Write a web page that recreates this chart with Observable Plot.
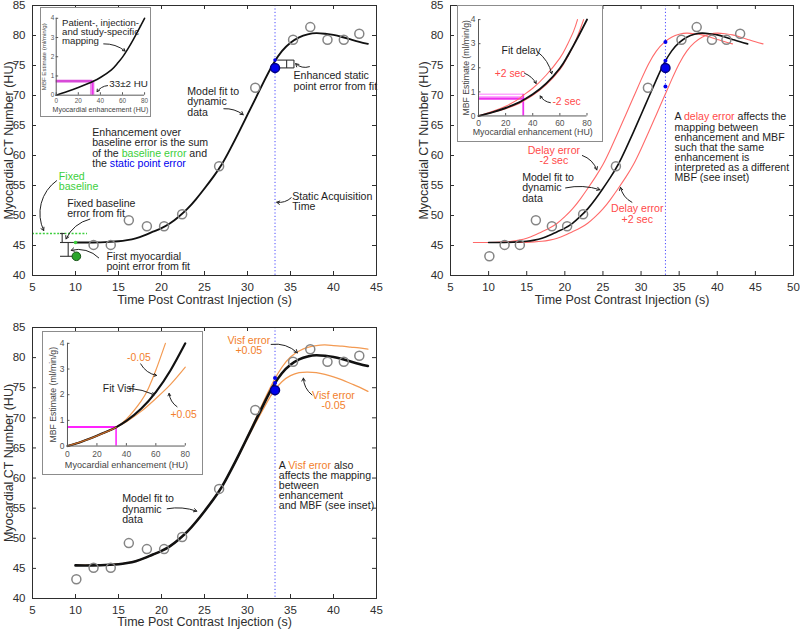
<!DOCTYPE html>
<html><head><meta charset="utf-8">
<script src="https://cdn.jsdelivr.net/npm/d3@7"></script>
<script src="https://cdn.jsdelivr.net/npm/@observablehq/plot@0.6"></script>
<style>
body{margin:0;background:#fff;}
#root{position:relative;width:800px;height:632px;overflow:hidden;background:#fff;}
.pan{position:absolute;}
.inset{position:absolute;background:#fff;border:1px solid #8c8c8c;box-sizing:border-box;}
</style></head><body><div id="root"></div>
<script>
// ---------- data ----------
const sampleT  = [10.1, 12.1, 14.1, 16.2, 18.3, 20.3, 22.4, 26.7, 30.9, 35.3, 37.3, 39.3, 41.2, 43.0];
const sampleHU = [43.2, 45.1, 45.1, 49.2, 48.2, 48.2, 50.2, 58.2, 71.3, 79.3, 81.4, 79.3, 79.3, 80.3];

const fitT  = [10,12,14,15,16,17,18,19,20,21,22,23,24,25,26,27,28,29,30,31,32,33,34,35,36,37,38,39,40,41,42,43,44];
const fitHU = [45.5,45.5,45.6,45.7,45.9,46.2,46.7,47.3,47.9,48.7,49.8,51.1,52.7,54.5,56.4,58.5,61.1,63.9,66.8,69.7,72.6,75.3,77.4,78.8,79.7,80.2,80.4,80.3,80.1,79.75,79.35,78.95,78.6];

// delay error curves (fit shifted by -2 s and +2 s)
const delayEarlyT = [8,10,12,13,14,15,16,17,18,19,20,21,22,23,24,25,26,27,28,29,30,31,32,33,34,35,36,37,38,39,40,41,42];
const delayLateT  = [12,14,16,17,18,19,20,21,22,23,24,25,26,27,28,29,30,31,32,33,34,35,36,37,38,39,40,41,42,43,44,45,46];

// Visf error curves
const visfPlusHU  = [45.5,45.5,45.6,45.7,45.9,46.2,46.7,47.3,47.9,48.7,49.8,51.1,52.7,54.5,56.4,58.5,61.1,63.9,66.9,70.0,73.1,76.0,78.4,80.1,81.1,81.7,82.0,82.1,82.0,81.9,81.75,81.6,81.4];
const visfMinusHU = [45.5,45.5,45.6,45.7,45.9,46.2,46.7,47.3,47.9,48.7,49.8,51.1,52.7,54.5,56.4,58.5,61.1,63.8,66.6,69.3,71.9,74.3,76.0,77.0,77.5,77.6,77.5,77.2,76.8,76.3,75.7,75.1,74.4];

const acqT = 33.2, staticHU = 74.6, acqFitHU = 75.9, baselineHU = 47;
const delayDotsHU = [78.9, 75.8, 71.5];
const visfDotsHU = [76.6, 75.8];

// inset mappings (enhancement HU -> MBF)
const mapE   = [0,10,20,30,33,40,50,55,60,65,70,75,80];
const mapMBF = [0,0.19,0.4,0.63,0.71,0.92,1.32,1.62,1.98,2.42,2.92,3.45,4.0];

const dFitE   = [0,10,20,30,33,40,50,60,65,70,75,80];
const dFitMBF = [0,0.15,0.33,0.56,0.66,0.9,1.35,1.98,2.42,2.92,3.45,4.0];
const dPlusE   = [0,10,20,30,33,40,50,60,65,70,73];
const dPlusMBF = [0,0.18,0.4,0.72,0.86,1.15,1.7,2.4,2.9,3.5,4.0];
const dMinusE   = [0,10,20,30,33,40,50,60,65,70,75,77.5];
const dMinusMBF = [0,0.14,0.3,0.52,0.62,0.86,1.3,1.92,2.38,2.92,3.6,4.0];

const vFitE   = [0,10,20,30,33,40,50,60,70,80];
const vFitMBF = [0,0.18,0.4,0.64,0.73,0.98,1.45,2.1,2.95,4.0];
const vMinusE   = [0,10,20,30,33,40,50,55,60,66.5];
const vMinusMBF = [0,0.18,0.4,0.64,0.73,1.05,1.75,2.25,2.95,4.0];
const vPlusE   = [0,10,20,30,33,40,50,60,70,80];
const vPlusMBF = [0,0.18,0.4,0.64,0.73,0.95,1.35,1.85,2.4,3.07];

const enhAt = 33, enhErr = 2;
const mbfA = 0.73;
const mbfB = [0.9, 0.8, 0.72];
const mbfC = 0.74;

// ticks & labels
const huTicks = [40,45,50,55,60,65,70,75,80,85];
const tTicks45 = [5,10,15,20,25,30,35,40,45];
const tTicks50 = [5,10,15,20,25,30,35,40,45,50];
const enhTicks = [0,20,40,60,80];
const mbfTicks = [0,1,2,3,4];
const xLabel = "Time Post Contrast Injection (s)";
const yLabel = "Myocardial CT Number (HU)";
const enhLabel = "Myocardial enhancement (HU)";
const mbfLabel = "MBF Estimate (ml/min/g)";

// ---------- style ----------
const FONT = '"Liberation Sans", Arial, Helvetica, sans-serif';
const AX = "#2e2e2e", TXT = "#1e1e1e";
const GREEN = "#3ccf3c", BLUE = "#0000ee", DOTBLUE = "#4a4aff";
const RED = "#ff6a6a", REDTXT = "#ff4a4a", ORANGE = "#f39a52", ORTXT = "#f2802c";
const MAG = "#ee30ee", PINK = "#ffa8ff";
const root = document.getElementById("root");
const fmtInt = d => String(d);

const pts = (xs, ys) => xs.map((x, i) => ({x, y: ys[i]}));
const samples = pts(sampleT, sampleHU);

function colorize(svg) {
  svg.querySelectorAll("text, tspan").forEach(el => {
    if (el.childNodes.length !== 1 || el.firstChild.nodeType !== 3) return;
    const s = el.textContent; if (!s.includes("{")) return;
    el.textContent = "";
    const re = /\{([^|}]+)\|([^}]+)\}/g; let last = 0, m;
    while ((m = re.exec(s))) {
      if (m.index > last) el.appendChild(document.createTextNode(s.slice(last, m.index)));
      const ts = document.createElementNS("http://www.w3.org/2000/svg", "tspan");
      ts.setAttribute("fill", m[1]); ts.textContent = m[2]; el.appendChild(ts);
      last = re.lastIndex;
    }
    if (last < s.length) el.appendChild(document.createTextNode(s.slice(last)));
  });
}

function note(items, o = {}) {
  return Plot.text(items, {x: "x", y: "y", text: "text", fontSize: o.fs || 10.6, lineHeight: o.lh || 0.98,
    textAnchor: o.anchor || "start", fill: o.fill || TXT});
}
function arrows(list, o = {}) {
  return list.map(a => Plot.arrow([a], {x1: "x1", y1: "y1", x2: "x2", y2: "y2", bend: a.bend || 0,
    stroke: o.stroke || "#222", strokeWidth: o.sw || 1, headLength: o.head || 5}));
}

function mainPanel(cfg) {
  const div = document.createElement("div");
  div.className = "pan";
  Object.assign(div.style, {left: cfg.left + "px", top: cfg.top + "px", width: cfg.w + "px", height: cfg.h + "px"});
  const plotW = cfg.w - cfg.mL - cfg.mR, plotH = cfg.h - cfg.mT - cfg.mB;
  const svg = Plot.plot({
    width: cfg.w, height: cfg.h,
    marginLeft: cfg.mL, marginRight: cfg.mR, marginTop: cfg.mT, marginBottom: cfg.mB,
    style: {fontFamily: FONT, fontSize: "11.5px", color: AX, background: "transparent", overflow: "visible"},
    x: {domain: cfg.xDomain, ticks: cfg.xTicks, tickFormat: fmtInt, tickSize: 0, tickPadding: 7, label: null},
    y: {domain: [40, 85], ticks: huTicks, tickFormat: fmtInt, tickSize: 0, tickPadding: 7, label: null},
    marks: [
      ...cfg.marks,
      Plot.ruleX(cfg.xTicks, {insetTop: plotH - 4, stroke: AX}),
      Plot.ruleX(cfg.xTicks, {insetBottom: plotH - 4, stroke: AX}),
      Plot.ruleY(huTicks, {insetRight: plotW - 4, stroke: AX}),
      Plot.ruleY(huTicks, {insetLeft: plotW - 4, stroke: AX}),
      Plot.frame({stroke: AX}),
      Plot.text([xLabel], {frameAnchor: "bottom", textAnchor: "middle", dy: cfg.xLabDy, text: d => d, fontSize: 12.5, fill: AX}),
      Plot.text([yLabel], {frameAnchor: "left", textAnchor: "middle", dx: cfg.yLabDx, rotate: -90, text: d => d, fontSize: 12.5, fill: AX})
    ]
  });
  colorize(svg);
  div.appendChild(svg); root.appendChild(div);
}

function makeInset(cfg) {
  const div = document.createElement("div");
  div.className = "inset";
  Object.assign(div.style, {left: cfg.left + "px", top: cfg.top + "px", width: cfg.w + "px", height: cfg.h + "px"});
  const plotW = cfg.w - cfg.mL - cfg.mR, plotH = cfg.h - cfg.mT - cfg.mB;
  const svg = Plot.plot({
    width: cfg.w, height: cfg.h,
    marginLeft: cfg.mL, marginRight: cfg.mR, marginTop: cfg.mT, marginBottom: cfg.mB,
    style: {fontFamily: FONT, fontSize: cfg.tickFs + "px", color: "#555", background: "transparent", overflow: "visible"},
    x: {domain: [0, 80], ticks: enhTicks, tickFormat: fmtInt, tickSize: 0, tickPadding: cfg.padX, label: null},
    y: {domain: [0, 4], ticks: mbfTicks, tickFormat: fmtInt, tickSize: 0, tickPadding: cfg.padY, label: null},
    marks: [
      ...cfg.marks,
      Plot.ruleX([0], {stroke: "#555"}),
      Plot.ruleY([0], {stroke: "#555"}),
      Plot.ruleX(enhTicks, {insetTop: plotH - 2.5, stroke: "#555"}),
      Plot.ruleY(mbfTicks, {insetRight: plotW - 2.5, stroke: "#555"}),
      Plot.text([enhLabel], {frameAnchor: "bottom", textAnchor: "middle", dy: cfg.xLabDy, text: d => d, fontSize: cfg.labFs, fill: "#444"}),
      Plot.text([mbfLabel], {frameAnchor: "left", textAnchor: "middle", dx: cfg.yLabDx, rotate: -90, text: d => d, fontSize: cfg.yLabFs, fill: "#444"})
    ]
  });
  svg.style.position = "absolute"; svg.style.left = "-1px"; svg.style.top = "-1px";
  colorize(svg);
  div.appendChild(svg); root.appendChild(div);
}

const fitPts = pts(fitT, fitHU);

// ---------- Panel A (top-left) ----------
const errSegsA = [
  {x1: 8.45, y1: baselineHU, x2: 8.45, y2: fitHU[0]},
  {x1: 8.2, y1: baselineHU, x2: 8.75, y2: baselineHU},
  {x1: 8.2, y1: fitHU[0], x2: 9.85, y2: fitHU[0]},
  {x1: 9.15, y1: fitHU[0], x2: 9.15, y2: sampleHU[0]},
  {x1: 8.2, y1: sampleHU[0], x2: 9.7, y2: sampleHU[0]}
];
const bracketA = [
  {x1: 33.45, y1: acqFitHU, x2: 35.4, y2: acqFitHU},
  {x1: 33.65, y1: staticHU, x2: 35.4, y2: staticHU},
  {x1: 35.4, y1: staticHU, x2: 35.4, y2: acqFitHU},
  {x1: 34.55, y1: staticHU, x2: 34.55, y2: acqFitHU}
];
mainPanel({
  left: 0, top: 0, w: 400, h: 315, mL: 32, mR: 24, mT: 5, mB: 40,
  xDomain: [5, 45], xTicks: tTicks45, xLabDy: 28, yLabDx: -24,
  marks: [
    Plot.ruleX([acqT], {stroke: DOTBLUE, strokeDasharray: "1.2,2.2"}),
    Plot.ruleY([baselineHU], {x1: 5, x2: 11.4, stroke: GREEN, strokeWidth: 1.7, strokeDasharray: "2,1.6"}),
    Plot.link(errSegsA, {x1: "x1", y1: "y1", x2: "x2", y2: "y2", stroke: "#333", strokeWidth: 1.1}),
    Plot.link(bracketA, {x1: "x1", y1: "y1", x2: "x2", y2: "y2", stroke: "#333", strokeWidth: 1.1}),
    Plot.line(fitPts, {x: "x", y: "y", stroke: "#111", strokeWidth: 1.9, curve: "natural"}),
    Plot.dot(samples.slice(1), {x: "x", y: "y", r: 4.5, stroke: "#858585", strokeWidth: 1.5}),
    Plot.dot([samples[0]], {x: "x", y: "y", r: 4.3, fill: "#2aa52a", stroke: "#185518", strokeWidth: 1}),
    Plot.dot([{x: fitT[0], y: fitHU[0]}], {x: "x", y: "y", r: 1.8, fill: GREEN}),
    Plot.dot([{x: acqT, y: acqFitHU}], {x: "x", y: "y", r: 1.8, fill: BLUE}),
    Plot.dot([{x: acqT, y: staticHU}], {x: "x", y: "y", r: 4.5, fill: BLUE, stroke: "#000080"}),
    note([
      {x: 23.0, y: 68.9, text: "Model fit to\ndynamic\ndata"},
      {x: 35.35, y: 72.4, text: "Enhanced static\npoint error from fit"},
      {x: 11.94, y: 61.2, text: `Enhancement over\nbaseline error is the sum\nof the {${GREEN}|baseline error} and\nthe {${BLUE}|static point error}`},
      {x: 9.03, y: 51.1, text: "Fixed baseline\nerror from fit"},
      {x: 13.6, y: 42.33, text: "First myocardial\npoint error from fit"},
      {x: 35.2, y: 52.3, text: "Static Acquisition\nTime"}
    ]),
    note([{x: 8.06, y: 55.6, text: "Fixed\nbaseline"}], {fill: GREEN}),
    ...arrows([
      {x1: 27.25, y1: 67.8, x2: 29.5, y2: 66.8, bend: 20},
      {x1: 37.2, y1: 74.8, x2: 35.6, y2: 75.3, bend: 30},
      {x1: 7.8, y1: 55.8, x2: 6.3, y2: 47.5, bend: -40},
      {x1: 11.67, y1: 49.4, x2: 8.9, y2: 46.1, bend: -25},
      {x1: 12.7, y1: 42.95, x2: 9.5, y2: 44.2, bend: -30},
      {x1: 35.08, y1: 52.95, x2: 33.4, y2: 52.2, bend: 25}
    ])
  ]
});

// ---------- Panel B (top-right) ----------
mainPanel({
  left: 400, top: 0, w: 400, h: 315, mL: 50, mR: 7, mT: 5, mB: 40,
  xDomain: [5, 50], xTicks: tTicks50, xLabDy: 28, yLabDx: -27,
  marks: [
    Plot.ruleX([acqT], {stroke: DOTBLUE, strokeDasharray: "1.2,2.2"}),
    Plot.line(pts(delayEarlyT, fitHU), {x: "x", y: "y", stroke: RED, strokeWidth: 1.1, curve: "natural"}),
    Plot.line(pts(delayLateT, fitHU), {x: "x", y: "y", stroke: RED, strokeWidth: 1.1, curve: "natural"}),
    Plot.line(fitPts, {x: "x", y: "y", stroke: "#111", strokeWidth: 1.6, curve: "natural"}),
    Plot.dot(samples, {x: "x", y: "y", r: 4.5, stroke: "#858585", strokeWidth: 1.5}),
    Plot.dot(delayDotsHU.map(y => ({x: acqT, y})), {x: "x", y: "y", r: 2, fill: BLUE}),
    Plot.dot([{x: acqT, y: staticHU}], {x: "x", y: "y", r: 4.5, fill: BLUE, stroke: "#000080"}),
    note([{x: 34.39, y: 61.33, text: `A {${REDTXT}|delay error} affects the\nmapping between\nenhancement and MBF\nsuch that the same\nenhancement is\ninterpreted as a different\nMBF (see inset)`}], {lh: 0.955}),
    note([{x: 14.4, y: 54.6, text: "Model fit to\ndynamic\ndata"}]),
    note([
      {x: 18.56, y: 59.95, text: "Delay error\n-2 sec"},
      {x: 29.5, y: 50.2, text: "Delay error\n+2 sec"}
    ], {fill: REDTXT, anchor: "middle"}),
    ...arrows([
      {x1: 22.3, y1: 60.0, x2: 24.2, y2: 57.6, bend: 25},
      {x1: 20.1, y1: 54.6, x2: 24.6, y2: 54.3, bend: 15},
      {x1: 28.8, y1: 52.2, x2: 27.3, y2: 54.7, bend: 25}
    ])
  ]
});

// ---------- Panel C (bottom-left) ----------
mainPanel({
  left: 0, top: 315, w: 400, h: 317, mL: 32, mR: 24, mT: 12, mB: 34,
  xDomain: [5, 45], xTicks: tTicks45, xLabDy: 27, yLabDx: -24,
  marks: [
    Plot.ruleX([acqT], {stroke: DOTBLUE, strokeDasharray: "1.2,2.2"}),
    Plot.line(pts(fitT, visfPlusHU), {x: "x", y: "y", stroke: ORANGE, strokeWidth: 1.3, curve: "natural"}),
    Plot.line(pts(fitT, visfMinusHU), {x: "x", y: "y", stroke: ORANGE, strokeWidth: 1.3, curve: "natural"}),
    Plot.line(fitPts, {x: "x", y: "y", stroke: "#111", strokeWidth: 2.6, curve: "natural"}),
    Plot.dot(samples, {x: "x", y: "y", r: 4.5, stroke: "#858585", strokeWidth: 1.5}),
    Plot.dot(visfDotsHU.map(y => ({x: acqT, y})), {x: "x", y: "y", r: 2, fill: BLUE}),
    Plot.dot([{x: acqT, y: staticHU}], {x: "x", y: "y", r: 4.5, fill: BLUE, stroke: "#000080"}),
    note([{x: 33.64, y: 58.76, text: `A {${ORTXT}|Visf error} also\naffects the mapping\nbetween\nenhancement\nand MBF (see inset)`}], {lh: 0.945}),
    note([{x: 15.43, y: 54.78, text: "Model fit to\ndynamic\ndata"}]),
    note([
      {x: 30.15, y: 82.0, text: "Visf error\n+0.05"},
      {x: 40.0, y: 72.9, text: "Visf error\n-0.05"}
    ], {fill: ORTXT, anchor: "middle"}),
    ...arrows([
      {x1: 32.75, y1: 82.2, x2: 35.8, y2: 80.8, bend: 25},
      {x1: 37.5, y1: 73.8, x2: 36.5, y2: 76.6, bend: 25},
      {x1: 20.66, y1: 54.9, x2: 24.1, y2: 54.5, bend: 15}
    ])
  ]
});

// ---------- Inset A ----------
makeInset({
  left: 40, top: 7, w: 111, h: 110, mL: 16, mR: 5, mT: 11, mB: 20.7,
  tickFs: 6.5, padX: 3, padY: 2, labFs: 7.2, yLabFs: 6.2, xLabDy: 16.7, yLabDx: -12.5,
  marks: [
    Plot.rect([{x1: enhAt - enhErr, x2: enhAt + enhErr, y1: 0, y2: mbfA}], {x1: "x1", x2: "x2", y1: "y1", y2: "y2", fill: "#e88ce8"}),
    Plot.ruleX([enhAt], {y1: 0, y2: mbfA, stroke: MAG, strokeWidth: 1.5}),
    Plot.ruleY([mbfA], {x1: 0, x2: enhAt, stroke: "#d84ad8", strokeWidth: 2.6}),
    Plot.line(pts(mapE, mapMBF), {x: "x", y: "y", stroke: "#111", strokeWidth: 1.6, curve: "natural"}),
    note([{x: 5.3, y: 3.29, text: "Patient-, injection-,\nand study-specific\nmapping"}], {fs: 9.8, lh: 0.98}),
    note([{x: 48, y: 0.58, text: "33±2 HU"}], {fs: 10}),
    ...arrows([
      {x1: 43, y1: 2.67, x2: 62.3, y2: 2.3, bend: 20},
      {x1: 46.5, y1: 0.5, x2: 37, y2: 0.18, bend: -25}
    ], {head: 4})
  ]
});

// ---------- Inset B ----------
makeInset({
  left: 457, top: 5, w: 146, h: 137, mL: 21.3, mR: 14.7, mT: 14.3, mB: 25,
  tickFs: 8.6, padX: 4, padY: 3, labFs: 9, yLabFs: 8.8, xLabDy: 19.7, yLabDx: -12.3,
  marks: [
    Plot.ruleY([mbfB[0], mbfB[1]], {x1: 0, x2: enhAt, stroke: PINK, strokeWidth: 1.6}),
    Plot.ruleY([mbfB[2]], {x1: 0, x2: enhAt, stroke: MAG, strokeWidth: 2.4}),
    Plot.ruleX([enhAt], {y1: 0, y2: mbfB[0], stroke: MAG, strokeWidth: 1.8}),
    Plot.line(pts(dPlusE, dPlusMBF), {x: "x", y: "y", stroke: RED, strokeWidth: 1.1, curve: "natural"}),
    Plot.line(pts(dMinusE, dMinusMBF), {x: "x", y: "y", stroke: RED, strokeWidth: 1.1, curve: "natural"}),
    Plot.line(pts(dFitE, dFitMBF), {x: "x", y: "y", stroke: "#111", strokeWidth: 1.9, curve: "natural"}),
    note([{x: 17, y: 2.69, text: "Fit delay"}], {fs: 10.5}),
    note([{x: 12, y: 1.77, text: "+2 sec"}, {x: 54.5, y: 0.61, text: "-2 sec"}], {fs: 10.5, fill: REDTXT}),
    ...arrows([
      {x1: 43.6, y1: 2.66, x2: 54, y2: 1.75, bend: 20},
      {x1: 34, y1: 1.77, x2: 42.5, y2: 1.35, bend: 20},
      {x1: 53, y1: 0.55, x2: 45.5, y2: 0.83, bend: 25}
    ], {head: 4})
  ]
});

// ---------- Inset C ----------
makeInset({
  left: 42, top: 331, w: 161, h: 144, mL: 25.3, mR: 16.4, mT: 12, mB: 28,
  tickFs: 8.6, padX: 5, padY: 3, labFs: 9.2, yLabFs: 8.8, xLabDy: 22.7, yLabDx: -14.3,
  marks: [
    Plot.ruleY([mbfC], {x1: 0, x2: enhAt, stroke: "#ff22ff", strokeWidth: 2}),
    Plot.ruleX([enhAt], {y1: 0, y2: mbfC, stroke: "#ff22ff", strokeWidth: 1.6}),
    Plot.line(pts(vMinusE, vMinusMBF), {x: "x", y: "y", stroke: ORANGE, strokeWidth: 1.2, curve: "natural"}),
    Plot.line(pts(vPlusE, vPlusMBF), {x: "x", y: "y", stroke: ORANGE, strokeWidth: 1.2, curve: "natural"}),
    Plot.line(pts(vFitE, vFitMBF), {x: "x", y: "y", stroke: "#111", strokeWidth: 2.2, curve: "natural"}),
    Plot.line(pts(vFitE.slice(0, 5), vFitMBF.slice(0, 5)), {x: "x", y: "y", stroke: "#c0692a", strokeWidth: 1.4, curve: "natural"}),
    note([{x: 24, y: 2.24, text: "Fit Visf"}], {fs: 10.5}),
    note([{x: 40.5, y: 3.45, text: "-0.05"}, {x: 70, y: 1.21, text: "+0.05"}], {fs: 10.5, fill: ORTXT}),
    ...arrows([
      {x1: 49.7, y1: 3.2, x2: 60.5, y2: 2.75, bend: -25},
      {x1: 41.9, y1: 2.25, x2: 59, y2: 2.0, bend: 10},
      {x1: 74.4, y1: 1.53, x2: 69, y2: 2.05, bend: 25}
    ], {head: 4})
  ]
});
</script>
</body></html>
